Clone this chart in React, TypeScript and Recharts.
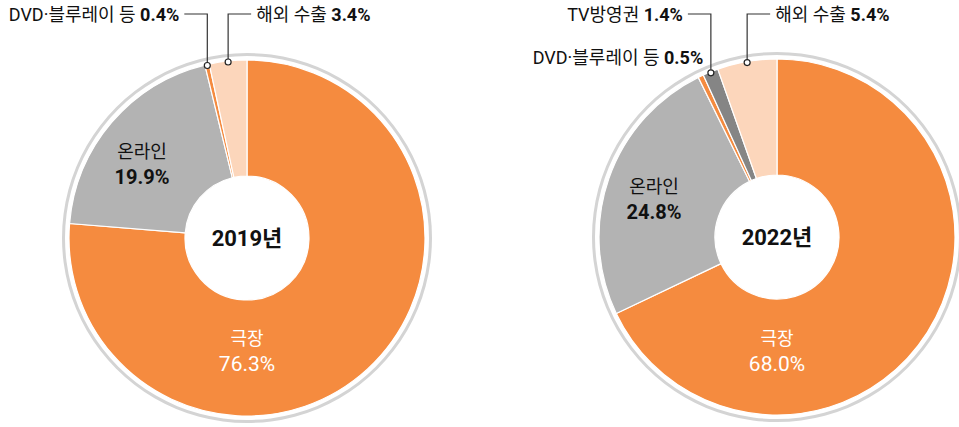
import React from "react";
import { PieChart, Pie, Cell } from "recharts";

// revenue share by channel, %
const CATEGORIES = ["극장", "온라인", "DVD·블루레이 등", "TV방영권", "해외 수출"];
const SHARE_2019 = [76.3, 19.9, 0.4, 0, 3.4];
const SHARE_2022 = [68.0, 24.8, 0.5, 1.4, 5.4];
const YEARS = ["2019년", "2022년"];

const COLORS: Record<string, string> = {
  극장: "#f58b3f",
  온라인: "#b3b3b3",
  "DVD·블루레이 등": "#f58b3f",
  TV방영권: "#858585",
  "해외 수출": "#fcd6bb",
};

const FONT = "Roboto, 'Noto Sans CJK KR', sans-serif";
const INK = "#111";

// label placement (offsets from the pie centre)
const INNER_POS: Record<string, Record<string, [number, number]>> = {
  "2019년": { 극장: [0, 107], 온라인: [-105, -80] },
  "2022년": { 극장: [0, 108], 온라인: [-123, -44] },
};
const CALLOUT_SIDE: Record<string, Record<string, string>> = {
  "2019년": { "DVD·블루레이 등": "left", "해외 수출": "right" },
  "2022년": { TV방영권: "left", "해외 수출": "right", "DVD·블루레이 등": "plain" },
};
const LINE_Y = 14;
const TEXT_Y = 21;
const LINE_LEN = 23;

const RAD = Math.PI / 180;

function makeLabel(year: string) {
  return (props: any) => {
    const { cx, cy, midAngle, outerRadius, name, value } = props;
    const pct = `${Number(value).toFixed(1)}%`;
    const inner = INNER_POS[year][name];
    if (inner) {
      const white = name === "극장";
      const x = cx + inner[0];
      const y = cy + inner[1];
      return (
        <g>
          <text x={x} y={y} textAnchor="middle" fontFamily={FONT} fontSize={18} fill={white ? "#fff" : INK}>
            {name}
          </text>
          <text
            x={x}
            y={y + 26}
            textAnchor="middle"
            fontFamily={FONT}
            fontSize={white ? 21 : 20}
            fontWeight={white ? 400 : 700}
            fill={white ? "#fff" : INK}
          >
            {pct}
          </text>
        </g>
      );
    }
    const side = CALLOUT_SIDE[year][name];
    if (!side) return null;
    const r = outerRadius - 1;
    const px = cx + r * Math.cos(-midAngle * RAD);
    const py = cy + r * Math.sin(-midAngle * RAD);
    const txt = (
      <>
        <tspan>{name} </tspan>
        <tspan fontWeight={700}>{pct}</tspan>
      </>
    );
    if (side === "plain") {
      return (
        <text x={px + 2} y={py - 13} textAnchor="end" fontFamily={FONT} fontSize={18} fill={INK}>
          {txt}
        </text>
      );
    }
    const dir = side === "left" ? -1 : 1;
    const ex = px + dir * LINE_LEN;
    return (
      <g>
        <polyline
          points={`${px},${py - 3} ${px},${LINE_Y} ${ex},${LINE_Y}`}
          fill="none"
          stroke="#333"
          strokeWidth={1.2}
        />
        <circle cx={px} cy={py} r={3} fill="#fff" stroke="#222" strokeWidth={1.2} />
        <text
          x={ex + dir * 5}
          y={TEXT_Y}
          textAnchor={side === "left" ? "end" : "start"}
          fontFamily={FONT}
          fontSize={18}
          fill={INK}
        >
          {txt}
        </text>
      </g>
    );
  };
}

function Donut({ year, shares, width, cx, cy }: { year: string; shares: number[]; width: number; cx: number; cy: number }) {
  const data = CATEGORIES.map((name, i) => ({ name, value: shares[i] })).filter((d) => d.value > 0);
  return (
    <PieChart width={width} height={427} margin={{ top: 0, right: 0, bottom: 0, left: 0 }}>
      <Pie
        data={[{ name: "ring", value: 1 }]}
        dataKey="value"
        cx={cx}
        cy={cy}
        innerRadius={182}
        outerRadius={185}
        fill="#d4d4d4"
        stroke="none"
        labelLine={false}
        label={(p: any) => (
          <text
            x={p.cx}
            y={p.cy + 8}
            textAnchor="middle"
            fontFamily={FONT}
            fontSize={22}
            fontWeight={700}
            fill={INK}
          >
            {year}
          </text>
        )}
        isAnimationActive={false}
      />
      <Pie
        data={data}
        dataKey="value"
        nameKey="name"
        cx={cx}
        cy={cy}
        innerRadius={62}
        outerRadius={178}
        startAngle={90}
        endAngle={-270}
        stroke="#fff"
        strokeWidth={1.2}
        label={makeLabel(year)}
        labelLine={false}
        isAnimationActive={false}
      >
        {data.map((d) => (
          <Cell key={d.name} fill={COLORS[d.name]} />
        ))}
      </Pie>
    </PieChart>
  );
}

export default function App() {
  return (
    <div style={{ position: "absolute", left: 0, top: 0, width: 959, height: 427, background: "#fff", overflow: "hidden" }}>
      <div style={{ position: "absolute", left: 0, top: 0 }}>
        <Donut year={YEARS[0]} shares={SHARE_2019} width={480} cx={247} cy={238} />
      </div>
      <div style={{ position: "absolute", left: 480, top: 0 }}>
        <Donut year={YEARS[1]} shares={SHARE_2022} width={479} cx={297} cy={237} />
      </div>
    </div>
  );
}
